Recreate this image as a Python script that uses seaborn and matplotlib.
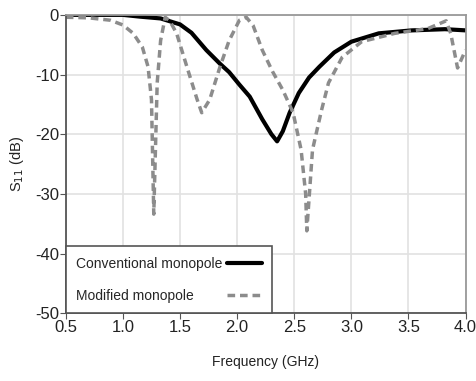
import numpy as np
import pandas as pd
import matplotlib
matplotlib.use('Agg')
import matplotlib.pyplot as plt
import seaborn as sns

# conventional monopole
conv_f = [0.5, 0.8, 1.0, 1.15, 1.33, 1.5, 1.6, 1.73, 1.85, 1.93, 2.02, 2.11, 2.22, 2.3, 2.35, 2.4,
          2.46, 2.54, 2.63, 2.72, 2.85, 3.0, 3.24, 3.53, 3.82, 4.0]
conv_s11 = [0.0, 0.0, 0.0, -0.3, -0.6, -1.6, -3.0, -5.9, -8.2, -9.6, -11.7, -13.7, -17.5, -20.0, -21.2, -19.5,
            -16.4, -13.1, -10.5, -8.7, -6.3, -4.5, -3.1, -2.6, -2.4, -2.6]

# modified monopole
mod_f = [0.5, 0.7, 0.89, 1.0, 1.09, 1.17, 1.22, 1.25, 1.27, 1.3, 1.33, 1.37, 1.41, 1.47, 1.56, 1.65,
         1.69, 1.76, 1.85, 1.93, 2.02, 2.08, 2.14, 2.22, 2.31, 2.4, 2.49, 2.56, 2.6, 2.61,
         2.66, 2.74, 2.8, 2.92, 3.09, 3.38, 3.67, 3.83, 3.87, 3.93, 4.0]
mod_s11 = [-0.4, -0.5, -0.9, -1.7, -3.1, -5.4, -8.7, -14.2, -33.4, -11.4, -4.3, -0.4, -1.0, -3.1, -8.7, -14.2,
           -16.4, -14.2, -8.7, -4.3, -0.9, -0.4, -1.8, -5.9, -9.5, -12.6, -16.4, -22.6, -30.0, -36.2,
           -22.6, -15.9, -11.4, -7.1, -4.5, -3.1, -2.3, -1.0, -3.1, -8.9, -5.9]

df = pd.concat([
    pd.DataFrame({'f': conv_f, 's11': conv_s11, 'name': 'Conventional monopole'}),
    pd.DataFrame({'f': mod_f, 's11': mod_s11, 'name': 'Modified monopole'}),
])

sns.set_style('whitegrid')
plt.rcParams['font.family'] = ['Liberation Sans', 'DejaVu Sans']
plt.rcParams['axes.unicode_minus'] = False

fig, ax = plt.subplots(figsize=(4.77, 3.81), dpi=100)

sns.lineplot(data=df[df.name == 'Conventional monopole'], x='f', y='s11', color='black',
             linewidth=3, label='Conventional monopole', ax=ax)
sns.lineplot(data=df[df.name == 'Modified monopole'], x='f', y='s11', color='#8c8c8c',
             linewidth=2.5, linestyle=(0, (2.2, 1.4)), label='Modified monopole', ax=ax)

ax.set_xlim(0.5, 4.0)
ax.set_ylim(-50, 0)
ax.set_xticks(np.arange(0.5, 4.01, 0.5))
ax.set_xticklabels(['0.5', '1.0', '1.5', '2.0', '2.5', '3.0', '3.5', '4.0'])
ax.set_yticks(np.arange(-50, 1, 10))
ax.tick_params(axis='both', labelsize=12, length=4, color='#555555', pad=1, direction='out',
               bottom=True, left=True, labelcolor='#222222')
ax.grid(color='#e2e2e2', linewidth=1.2)
for s in ax.spines.values():
    s.set_color('#999999')
    s.set_linewidth(1.3)
ax.spines['left'].set_color('#555555')
ax.spines['bottom'].set_color('#555555')

ax.set_xlabel('Frequency (GHz)', fontsize=10, labelpad=14, color='#222222')
ax.set_ylabel('S$_{11}$ (dB)', fontsize=10.5, labelpad=6, color='#222222')

leg = ax.legend(loc='lower left', bbox_to_anchor=(0, 0), borderaxespad=0, fontsize=10,
                frameon=True, fancybox=False, edgecolor='#555555', framealpha=1,
                handlelength=2.5, markerfirst=False, borderpad=0.75, labelspacing=1.3,
                handletextpad=0.3)
leg.get_frame().set_linewidth(1.2)

plt.subplots_adjust(left=0.138, right=0.976, top=0.961, bottom=0.178)

# keep labels left aligned with handles on the right
fig.canvas.draw()
r = fig.canvas.get_renderer()
widths = [t.get_window_extent(r).width for t in leg.get_texts()]
col = leg._legend_handle_box.get_children()[0]
for item, w in zip(col.get_children(), widths):
    item.sep = item.sep + (max(widths) - w) * 72 / fig.dpi

plt.savefig('out.png', dpi=100)
